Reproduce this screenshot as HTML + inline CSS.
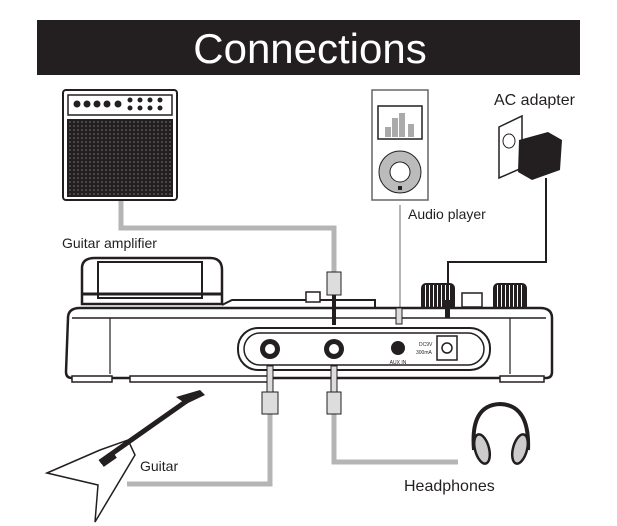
<!DOCTYPE html>
<html><head><meta charset="utf-8"><style>
html,body{margin:0;padding:0;background:#fff;}
svg{display:block;}
text{font-family:"Liberation Sans",sans-serif;}
</style></head><body>
<svg width="617" height="526" viewBox="0 0 617 526" xmlns="http://www.w3.org/2000/svg">
<defs>
<pattern id="grill" width="4" height="4" patternUnits="userSpaceOnUse">
<rect width="4" height="4" fill="#231f20"/><circle cx="2" cy="2" r="0.8" fill="#777"/>
</pattern>
<pattern id="rib" width="4" height="4" patternUnits="userSpaceOnUse">
<rect width="4" height="4" fill="#231f20"/><rect x="1" width="1" height="4" fill="#fff"/>
</pattern>
</defs>
<rect x="37" y="20" width="543" height="55" fill="#231f20"/>
<text x="310" y="63" font-size="42" fill="#fff" text-anchor="middle">Connections</text>

<g fill="none" stroke="#b5b5b5" stroke-width="5">
<polyline points="121,200 121,228 334,228 334,275"/>
<polyline points="270,413 270,484 127,484"/>
<polyline points="334,413 334,462 458,462"/>
</g>
<line x1="400" y1="205" x2="400" y2="308" stroke="#b5b5b5" stroke-width="2"/>
<polyline points="546,185 546,262 448,262 448,300" fill="none" stroke="#231f20" stroke-width="2"/>

<rect x="63" y="90" width="114" height="110" rx="3" fill="#fff" stroke="#231f20" stroke-width="2"/>
<rect x="68" y="95" width="104" height="20" fill="#fff" stroke="#231f20" stroke-width="1.5"/>
<g fill="#231f20"><circle cx="77" cy="104" r="3.5"/><circle cx="87" cy="104" r="3.5"/><circle cx="97" cy="104" r="3.5"/><circle cx="107" cy="104" r="3.5"/><circle cx="118" cy="104" r="3.5"/>
<circle cx="130" cy="100" r="2.5"/><circle cx="140" cy="100" r="2.5"/><circle cx="150" cy="100" r="2.5"/><circle cx="160" cy="100" r="2.5"/>
<circle cx="130" cy="108" r="2.5"/><circle cx="140" cy="108" r="2.5"/><circle cx="150" cy="108" r="2.5"/><circle cx="160" cy="108" r="2.5"/></g>
<rect x="67" y="119" width="106" height="78" fill="url(#grill)"/>
<text x="62" y="248" font-size="14" fill="#231f20">Guitar amplifier</text>

<rect x="372" y="90" width="56" height="110" fill="#fff" stroke="#666" stroke-width="1.5"/>
<rect x="378" y="106" width="44" height="33" fill="#fff" stroke="#231f20" stroke-width="1.5"/>
<rect x="385" y="127" width="6" height="10" fill="#aaa"/><rect x="392" y="118" width="6" height="19" fill="#aaa"/><rect x="399" y="113" width="6" height="24" fill="#aaa"/><rect x="408" y="124" width="6" height="13" fill="#aaa"/>
<circle cx="400" cy="172" r="21" fill="#bbb" stroke="#231f20" stroke-width="1"/>
<circle cx="400" cy="172" r="10" fill="#fff" stroke="#231f20" stroke-width="1"/>
<rect x="398" y="186" width="4" height="4" fill="#231f20"/>
<text x="408" y="219" font-size="14" fill="#231f20">Audio player</text>

<text x="494" y="105" font-size="16" fill="#231f20">AC adapter</text>
<polygon points="499,127 522,116 522,168 499,178" fill="#fff" stroke="#231f20" stroke-width="1.5"/>
<ellipse cx="509" cy="141" rx="6" ry="7" fill="#fff" stroke="#231f20" stroke-width="1"/>
<polygon points="519,140 548,132 562,140 560,170 532,180 518,172" fill="#231f20"/>
<line x1="546" y1="178" x2="546" y2="186" stroke="#231f20" stroke-width="2"/>

<path d="M82,268 Q82,258 95,258 L210,258 Q222,258 222,270 L222,304 L82,304 Z" fill="#fff" stroke="#231f20" stroke-width="2.5"/>
<rect x="98" y="262" width="104" height="36" fill="#fff" stroke="#231f20" stroke-width="2"/>
<line x1="82" y1="294" x2="222" y2="294" stroke="#231f20" stroke-width="3"/>
<path d="M222,305 L232,300 L375,300 L375,308" fill="none" stroke="#231f20" stroke-width="2"/>
<rect x="306" y="292" width="14" height="10" fill="#fff" stroke="#231f20" stroke-width="1.5"/>
<rect x="422" y="284" width="32" height="26" rx="4" fill="url(#rib)" stroke="#231f20" stroke-width="2"/>
<rect x="494" y="284" width="32" height="26" rx="4" fill="url(#rib)" stroke="#231f20" stroke-width="2"/>
<rect x="462" y="293" width="20" height="14" fill="#fff" stroke="#231f20" stroke-width="1.5"/>
<path d="M68,318 Q68,308 80,308 L540,308 Q552,308 552,318 L552,372 Q552,378 546,378 L72,378 Q66,378 66,372 Z" fill="#fff" stroke="#231f20" stroke-width="2.5"/>
<line x1="72" y1="318" x2="546" y2="318" stroke="#231f20" stroke-width="1.5"/>
<line x1="110" y1="318" x2="110" y2="374" stroke="#231f20" stroke-width="1.2"/>
<line x1="510" y1="318" x2="510" y2="374" stroke="#231f20" stroke-width="1.2"/>
<rect x="72" y="376" width="40" height="6" fill="#fff" stroke="#231f20" stroke-width="1.5"/>
<rect x="130" y="376" width="140" height="6" fill="#fff" stroke="#231f20" stroke-width="1.5"/>
<rect x="500" y="376" width="44" height="6" fill="#fff" stroke="#231f20" stroke-width="1.5"/>
<rect x="238" y="328" width="252" height="42" rx="20" fill="#fff" stroke="#231f20" stroke-width="2"/>
<rect x="244" y="333" width="240" height="32" rx="16" fill="#fff" stroke="#231f20" stroke-width="1.5"/>
<circle cx="270" cy="349" r="10" fill="#231f20"/><circle cx="270" cy="349" r="5" fill="#fff"/>
<circle cx="334" cy="349" r="10" fill="#231f20"/><circle cx="334" cy="349" r="5" fill="#fff"/>
<circle cx="398" cy="348" r="7" fill="#231f20"/>
<text x="398" y="364" font-size="5" text-anchor="middle" fill="#231f20">AUX IN</text>
<text x="419" y="346" font-size="5" fill="#231f20">DC9V</text>
<text x="416" y="354" font-size="5" fill="#231f20">300mA</text>
<rect x="437" y="336" width="20" height="24" fill="#fff" stroke="#231f20" stroke-width="1.5"/>
<circle cx="447" cy="348" r="5" fill="#fff" stroke="#231f20" stroke-width="1.5"/>
<rect x="327" y="272" width="14" height="23" fill="#ddd" stroke="#231f20" stroke-width="1"/>
<rect x="332" y="295" width="4" height="30" fill="#231f20"/>
<rect x="396" y="308" width="6" height="16" fill="#ddd" stroke="#231f20" stroke-width="1"/>
<rect x="445" y="300" width="5" height="18" fill="#231f20"/>
<rect x="262" y="392" width="16" height="22" fill="#ddd" stroke="#231f20" stroke-width="1"/>
<rect x="327" y="392" width="14" height="22" fill="#ddd" stroke="#231f20" stroke-width="1"/>
<rect x="267" y="366" width="6" height="26" fill="#ddd" stroke="#231f20" stroke-width="1"/>
<rect x="331" y="366" width="6" height="26" fill="#ddd" stroke="#231f20" stroke-width="1"/>

<polygon points="47,473 100,450 128,440 135,455 95,522 98,485" fill="#fff" stroke="#231f20" stroke-width="1.5"/>
<line x1="100" y1="462" x2="198" y2="393" stroke="#231f20" stroke-width="5"/>
<polygon points="176,397 200,390 205,395 186,404" fill="#231f20"/>
<rect x="100" y="455" width="16" height="8" fill="#231f20" transform="rotate(-35 108 459)"/>
<text x="140" y="471" font-size="14" fill="#231f20">Guitar</text>

<path d="M474,450 Q470,405 500,404 Q530,405 528,450" fill="none" stroke="#231f20" stroke-width="4"/>
<ellipse cx="482" cy="449" rx="7" ry="15" fill="#ccc" stroke="#231f20" stroke-width="2.5" transform="rotate(-15 482 449)"/>
<ellipse cx="520" cy="449" rx="7" ry="15" fill="#ccc" stroke="#231f20" stroke-width="2.5" transform="rotate(15 520 449)"/>
<text x="404" y="491" font-size="16" fill="#231f20">Headphones</text>
</svg>
</body></html>
